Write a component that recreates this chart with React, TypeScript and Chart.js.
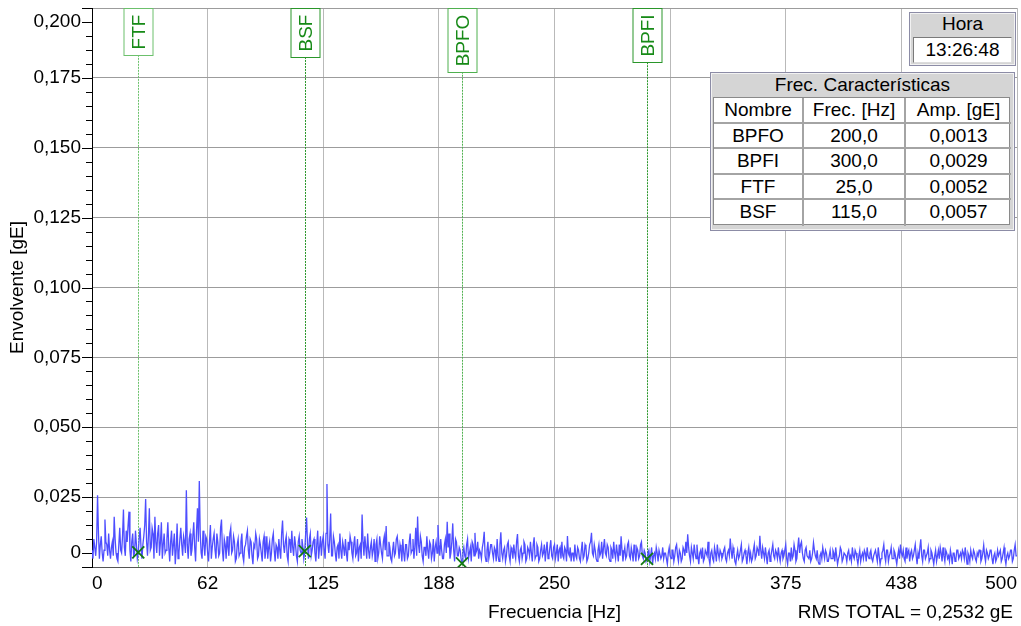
import { useEffect, useRef } from "react";
import { Chart, registerables } from "chart.js";

Chart.register(...registerables);

const FONT = '"Liberation Sans", Arial, sans-serif';

// Envelope spectrum: one bin every 0.5 Hz from 0 to 500 Hz, amplitudes in mgE (20 bins per row = 10 Hz)
const binStepHz = 0.5;
const envelopeMilliG = [
  6, 3, 10, 7, 4, 9, 25.7, 12, 3, 8, 11, 5, 2, 6, 17, 9, 8, 4, 12, 6,
  3, 7, 9, 4, 18, 10, 5, 3, 2, 8, 14, 6, 5, 11, 20.6, 7, 4, 13, 9, 15,
  19.8, 6, 2, 9, 12, 4, 5, 13, 8, 3, 5.2, 10, 14, 7, 3, 8, 11, 15, 24.3, 9,
  4, 11, 21, 6, 7, 14, 12, 3, 18, 9, 5, 12, 15, 4, 9, 16, 3, 8, 12, 5,
  6, 10, 16, 7, 2, 9, 13, 4, 8, 12, 1, 6, 15.6, 3, 5, 10, 14, 8, 4, 11,
  9, 5, 27.5, 8, 3, 10, 12, 4, 6, 11, 16, 7, 2, 13, 21, 9, 30.8, 12, 5, 3,
  13, 8, 4, 11, 10, 5, 2, 9, 15, 3, 7, 10, 12, 6, 3, 12, 9, 4, 5, 14,
  17, 6, 2, 10, 8, 3, 11, 7, 4, 12, 14, 5, 6, 11, 9, 2, 3, 8, 10, 4,
  5, 9, 12, 4, 2, 7, 8, 11, 13, 6, 3, 10, 9, 4, 1, 8, 7, 12, 10, 3,
  4, 10, 8, 5, 2, 9, 11, 3, 6, 11, 3, 7, 9, 2, 5, 10, 12, 6, 2, 8,
  7, 3, 10, 6, 3, 12, 16.6, 8, 5, 9, 11, 4, 2, 10, 9, 5, 13, 7, 4, 11,
  8, 4, 2, 9, 11, 6, 5, 10, 7, 3, 5.7, 12, 17.7, 8, 3, 10, 12, 4, 6, 9,
  10, 5, 2, 8, 13, 3, 7, 11, 4, 9, 11, 6, 3, 12, 29.7, 8, 5, 10, 19.1, 4,
  4, 11, 9, 5, 2, 7, 8, 3, 12, 6, 3, 9, 7, 4, 10, 5, 2, 9, 6, 11,
  9, 5, 3, 8, 11, 4, 5, 10, 2, 7, 8, 3, 18.8, 9, 4, 11, 7, 3, 12, 6,
  3, 7, 9, 4, 6, 10, 2, 8, 10, 3, 5, 11, 8, 5, 3, 9, 11, 6, 14.7, 4,
  4, 9, 7, 3, 2, 6, 9, 4, 5, 10, 11, 7, 3, 8, 6, 2, 10, 5, 2, 8,
  8, 3, 4, 9, 12, 5, 6, 10, 3, 7, 14, 4, 18.1, 8, 5, 11, 9, 4, 2, 7,
  7, 4, 11, 6, 3, 9, 8, 3, 5, 10, 2, 7, 9, 5, 15, 8, 4, 10, 6, 3,
  3, 8, 10, 5, 16.2, 7, 12, 3, 5, 9, 15.6, 6, 2, 10, 9, 4, 4, 7, 6, 3,
  1.3, 5, 7, 4, 3, 8, 10, 3, 5, 7, 2, 9, 8, 4, 12.2, 5, 6, 9, 3, 6,
  5, 3, 7, 9, 12.6, 4, 2, 6, 9, 3, 5, 8, 8, 5, 3, 7, 6, 2, 10, 4,
  2, 8, 12.4, 5, 3, 6, 7, 2, 4, 8, 9, 4, 2, 7, 6, 3, 8, 5, 3, 9,
  11.8, 4, 2, 6, 7, 3, 5, 9, 8, 2, 3, 7, 6, 4, 9, 5, 2, 8, 10.6, 3,
  4, 8, 7, 2, 3, 6, 8, 4, 5, 8, 2, 6, 9, 3, 4, 7, 9.6, 4, 3, 7,
  8, 3, 5, 8, 2, 6, 7, 3, 9, 4, 3, 7, 6, 2, 11.1, 5, 4, 7, 2, 5,
  5, 2, 8, 4, 3, 7, 6, 3, 2, 6, 9, 3, 4, 8, 7, 2, 3, 5, 8, 9,
  12.2, 5, 4, 8, 6, 3, 2, 6, 8, 4, 5, 9, 3, 7, 10, 5, 4, 8, 7, 3,
  2, 7, 6, 3, 9, 5, 3, 8, 5, 2, 8, 4, 11, 6, 2, 5, 7, 3, 4, 8,
  9, 4, 3, 7, 5, 2, 8, 5, 2, 7, 6, 3, 4, 8, 9, 4, 3, 6, 5, 2,
  2.9, 5, 6, 2, 4, 7, 1, 4, 5, 3, 7, 5, 2, 6, 6, 3, 4, 7, 3, 5,
  5, 3, 1, 5, 7, 4, 3, 6, 6, 2, 4, 7, 8, 4, 2, 6, 5, 2, 3, 7,
  6, 4, 9, 5, 11.7, 7, 4, 2, 7, 5, 3, 8, 5, 3, 8, 4, 1, 5, 6, 3,
  7, 2, 3, 6, 5, 4, 9, 3, 1, 5, 6, 3, 2, 7, 5, 2, 8, 5, 3, 6,
  5, 3, 4, 6, 7, 3, 2, 5, 6, 4, 10.2, 6, 3, 7, 5, 2, 1, 4, 6, 3,
  4, 6, 8, 2, 3, 5, 6, 4, 1, 5, 7, 3, 5, 2, 3, 6, 8, 3, 4, 7,
  6, 4, 11.2, 6, 3, 7, 5, 3, 7, 4, 1, 5, 6, 2, 4, 6, 8, 4, 3, 6,
  5, 3, 7, 4, 2, 5, 6, 3, 4, 6, 8, 3, 1, 5, 5, 2, 7, 3, 4, 8,
  6, 2, 3, 7, 10.5, 5, 8, 9, 5, 3, 2, 6, 7, 4, 4, 3, 6, 2, 3, 5,
  8.7, 6, 4, 3, 6, 2, 1, 4, 5, 3, 7, 5, 3, 6, 5, 2, 2, 4, 6, 3,
  3, 6, 5, 2, 7, 4, 1, 3, 4, 7, 6, 2, 3, 5, 5, 4, 2, 5, 6, 3,
  4, 2, 7, 4, 3, 6, 5, 3, 1, 4, 6, 2, 4, 5, 3, 6, 5, 2, 7, 4,
  3, 5, 6, 3, 2, 4, 5, 6, 4, 2, 7, 4, 1, 3, 5, 6, 8, 4, 2, 6,
  6, 2, 4, 5, 7, 3, 3, 6, 5, 3, 1, 4, 6, 3, 8, 5, 4, 6, 3, 2,
  7, 3, 5, 6, 2, 5, 6, 3, 4, 6, 8, 4, 1, 5, 3, 7, 9.9, 4, 2, 6,
  6, 3, 4, 5, 7, 2, 3, 6, 5, 3, 1, 4, 6, 2, 4, 6, 3, 7, 5, 2,
  7, 4, 2, 6, 5, 3, 4, 2, 6, 4, 1, 5, 5, 2, 3, 6, 6, 3, 4, 5,
  3, 6, 5, 3, 7, 4, 1, 5, 4, 2, 6, 4, 3, 6, 5, 3, 2, 5, 4, 6,
  6, 2, 3, 5, 7.8, 4, 2, 6, 5, 3, 4, 6, 6, 3, 1, 4, 5, 2, 3, 6,
  4, 5, 6, 2, 3, 5, 7, 3, 1, 4, 5, 3, 4, 6, 6, 2, 3, 6, 8, 4,
  4,
];

// Bearing characteristic frequencies
const markerNames = ["BPFO", "BPFI", "FTF", "BSF"];
const markerFreqHz = [200, 300, 25, 115];
const markerAmpG = [0.0013, 0.0029, 0.0052, 0.0057];

// Axis ticks
const xTickValues = [0, 62.5, 125, 187.5, 250, 312.5, 375, 437.5, 500];
const xTickLabels = ["0", "62", "125", "188", "250", "312", "375", "438", "500"];
const yMinorStep = 0.005;
const yTickLabels = ["0", "0,025", "0,050", "0,075", "0,100", "0,125", "0,150", "0,175", "0,200"];

const horaText = "13:26:48";
const rmsTotalText = "RMS TOTAL = 0,2532 gE";

// The end labels sit one minor step inside the axis range
const yLabelSlots = [1, 5, 10, 15, 20, 25, 30, 35, 39];
const yLongTickSlots = [0, 1, 5, 10, 15, 20, 25, 30, 35, 39, 40];

const markerLineColor: Record<string, string> = {
  FTF: "#6cc06c",
  BSF: "#2a962a",
  BPFO: "#4fb04f",
  BPFI: "#2a962a",
};
const markerTextColor = "#178a17";

const fmt = (v: number, d: number) => v.toFixed(d).replace(".", ",");

const overlayPlugin = {
  id: "bearingOverlay",
  beforeDatasetsDraw(chart: any) {
    const { ctx, chartArea, scales } = chart;
    const x = scales.x;
    ctx.save();
    ctx.font = `19px ${FONT}`;
    ctx.lineWidth = 1;
    ctx.setLineDash([2, 1]);
    markerNames.forEach((name, i) => {
      const px = Math.round(x.getPixelForValue(markerFreqHz[i])) + 0.5;
      const boxH = ctx.measureText(name).width + 12;
      ctx.strokeStyle = markerLineColor[name];
      ctx.beginPath();
      ctx.moveTo(px, chartArea.top + boxH);
      ctx.lineTo(px, chartArea.bottom);
      ctx.stroke();
    });
    ctx.restore();
  },
  afterDatasetsDraw(chart: any) {
    const { ctx, chartArea, scales } = chart;
    const x = scales.x;
    ctx.save();
    ctx.font = `19px ${FONT}`;
    markerNames.forEach((name, i) => {
      const px = Math.round(x.getPixelForValue(markerFreqHz[i])) + 0.5;
      const boxH = Math.round(ctx.measureText(name).width + 12);
      const top = chartArea.top + 0.5;
      ctx.fillStyle = "#fff";
      ctx.fillRect(px - 14.5, top, 29, boxH);
      ctx.strokeStyle = markerLineColor[name];
      ctx.lineWidth = 1;
      ctx.strokeRect(px - 14.5, top, 29, boxH);
      ctx.save();
      ctx.translate(px, top + boxH / 2);
      ctx.rotate(-Math.PI / 2);
      ctx.fillStyle = markerTextColor;
      ctx.textAlign = "center";
      ctx.textBaseline = "middle";
      ctx.fillText(name, 0, 1);
      ctx.restore();
    });
    ctx.restore();
  },
  afterDraw(chart: any) {
    const { ctx, chartArea, scales } = chart;
    const y = scales.y;
    ctx.save();
    ctx.strokeStyle = "#000";
    ctx.lineWidth = 1;
    ctx.beginPath();
    y.ticks.forEach((t: any, i: number) => {
      const py = Math.round(y.getPixelForValue(t.value)) + 0.5;
      const len = yLongTickSlots.includes(i) ? 10 : 6;
      ctx.moveTo(chartArea.left - len, py);
      ctx.lineTo(chartArea.left, py);
    });
    ctx.stroke();
    ctx.fillStyle = "#000";
    ctx.font = `19px ${FONT}`;
    ctx.textAlign = "right";
    ctx.textBaseline = "middle";
    ctx.fillText(rmsTotalText, chartArea.right - 4, chart.height - 13);
    ctx.restore();
  },
};

const panelBorder = "1px solid #8c8ca6";
const cellLine = "2px solid #a4a4a4";

function FrecTable() {
  const colW = [90, 102, 105];
  const rowH = 25.6;
  const header = ["Nombre", "Frec. [Hz]", "Amp. [gE]"];
  const rows = [header].concat(
    markerNames.map((n, i) => [n, fmt(markerFreqHz[i], 1), fmt(markerAmpG[i], 4)])
  );
  return (
    <div
      style={{
        position: "absolute", left: 710, top: 72, width: 305, height: 159,
        boxSizing: "border-box", border: panelBorder, background: "#d5d5d5",
        boxShadow: "inset 0 0 0 1px #f2f2f2",
      }}
    >
      <div style={{ height: 24, lineHeight: "24px", textAlign: "center" }}>Frec. Características</div>
      <div
        style={{
          position: "absolute", left: 2, top: 24, width: 297, height: 128,
          background: "#fff", boxSizing: "border-box", border: "1px solid #8a8a8a",
        }}
      >
        {rows.map((r, ri) =>
          r.map((txt, ci) => {
            const left = colW.slice(0, ci).reduce((a, b) => a + b, 0);
            return (
              <div
                key={`${ri}-${ci}`}
                style={{
                  position: "absolute", left, top: ri * rowH, width: colW[ci],
                  height: rowH, boxSizing: "border-box", textAlign: "center",
                  lineHeight: `${rowH - 2}px`,
                  borderRight: ci < 2 ? cellLine : "none",
                  borderBottom: ri < rows.length - 1 ? cellLine : "none",
                }}
              >
                {txt}
              </div>
            );
          })
        )}
      </div>
    </div>
  );
}

function HoraBox() {
  return (
    <div
      style={{
        position: "absolute", left: 909, top: 12, width: 107, height: 54,
        boxSizing: "border-box", border: panelBorder, background: "#d5d5d5",
        boxShadow: "inset 0 0 0 1px #f2f2f2",
      }}
    >
      <div style={{ height: 22, lineHeight: "22px", textAlign: "center" }}>Hora</div>
      <div
        style={{
          position: "absolute", left: 3, top: 24, right: 3, height: 26,
          boxSizing: "border-box", background: "#fff", textAlign: "center",
          lineHeight: "24px", border: "1px solid #7a7a7a",
          borderRightColor: "#dcdcdc", borderBottomColor: "#dcdcdc",
        }}
      >
        {horaText}
      </div>
    </div>
  );
}

export default function App() {
  const canvasRef = useRef<HTMLCanvasElement>(null);

  useEffect(() => {
    const canvas = canvasRef.current;
    if (!canvas) return;

    const spectrum = envelopeMilliG.map((v, i) => ({ x: i * binStepHz, y: v / 1000 }));
    const markers = markerFreqHz.map((f, i) => ({ x: f, y: markerAmpG[i] }));
    const tickFont = { size: 19, family: FONT };

    const chart = new Chart(canvas, {
      type: "line",
      data: {
        datasets: [
          {
            type: "scatter",
            data: markers,
            pointStyle: "crossRot",
            pointRadius: 8.5,
            pointHoverRadius: 8.5,
            borderColor: "#137a13",
            backgroundColor: "#137a13",
            borderWidth: 1.8,
            order: 0,
          } as any,
          {
            type: "line",
            data: spectrum,
            borderColor: "rgb(78,78,255)",
            borderWidth: 1.3,
            pointRadius: 0,
            tension: 0,
            order: 1,
          } as any,
        ],
      },
      options: {
        animation: false,
        responsive: false,
        devicePixelRatio: 1,
        events: [],
        layout: { autoPadding: false, padding: { top: 8, right: 4, left: 0, bottom: 0 } },
        plugins: { legend: { display: false }, tooltip: { enabled: false } },
        scales: {
          x: {
            type: "linear",
            min: 0,
            max: 500,
            afterBuildTicks: (s: any) => {
              s.ticks = xTickValues.map((v) => ({ value: v }));
            },
            afterFit: (s: any) => {
              s.height = 59;
              s.paddingLeft = 0;
              s.paddingRight = 0;
            },
            ticks: {
              autoSkip: false,
              maxRotation: 0,
              align: "inner",
              padding: 5,
              color: "#000",
              font: tickFont,
              callback: (_v: any, i: number) => xTickLabels[i],
            },
            grid: { color: "#b9b9b9", drawTicks: false },
            border: { display: true, color: "#555" },
            title: {
              display: true,
              text: "Frecuencia [Hz]",
              color: "#000",
              font: tickFont,
              padding: { top: 0, bottom: 2 },
            },
          } as any,
          y: {
            type: "linear",
            min: 0,
            max: 0.2,
            afterBuildTicks: (s: any) => {
              s.ticks = Array.from({ length: 41 }, (_, i) => ({ value: i * yMinorStep }));
            },
            afterFit: (s: any) => {
              s.width = 92;
              s.paddingTop = 0;
              s.paddingBottom = 0;
            },
            ticks: {
              autoSkip: false,
              padding: 11,
              color: "#000",
              font: tickFont,
              callback: (_v: any, i: number) => {
                const k = yLabelSlots.indexOf(i);
                return k >= 0 ? yTickLabels[k] : "";
              },
            },
            grid: {
              drawTicks: false,
              color: (c: any) => (c.index > 0 && c.index % 5 === 0 ? "#9c9c9c" : "rgba(0,0,0,0)"),
            },
            border: { display: true, color: "#000" },
            title: {
              display: true,
              text: "Envolvente [gE]",
              color: "#000",
              font: tickFont,
              padding: { top: 6, bottom: 0 },
            },
          } as any,
        },
      },
      plugins: [overlayPlugin],
    });

    return () => chart.destroy();
  }, []);

  return (
    <div
      style={{
        position: "fixed", left: 0, top: 0, width: 1021, height: 626,
        background: "#fff", fontFamily: FONT, fontSize: 19, color: "#000",
      }}
    >
      <canvas ref={canvasRef} width={1021} height={626} style={{ position: "absolute", left: 0, top: 0 }} />
      <HoraBox />
      <FrecTable />
    </div>
  );
}
